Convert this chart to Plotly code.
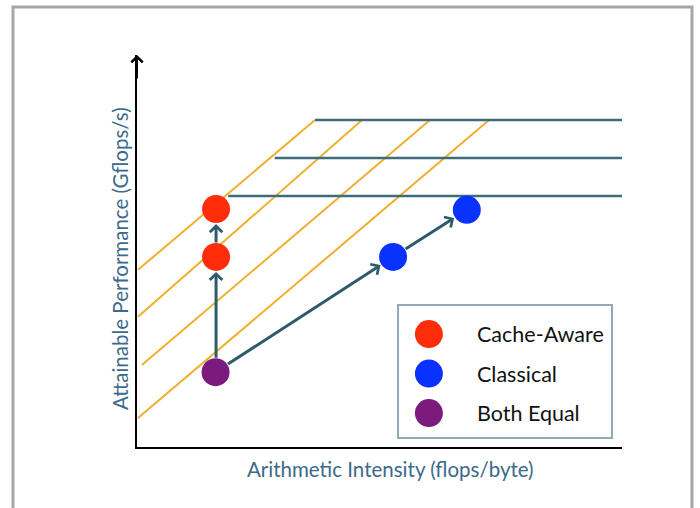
import plotly.graph_objects as go

# ---------------- data (chart units: x 0..100, y 0..100) ----------------
# compute ceilings (horizontal roofs)
ceiling_y = [83.4, 73.7, 64.0]
ceiling_x_start = [36.7, 28.4, 18.8]
ceiling_x_end = [100, 100, 100]

# bandwidth diagonals
bw_x_start = [0.2, 0.2, 1.0, 0.2]
bw_y_start = [45.2, 33.2, 20.9, 7.4]
bw_x_end = [36.7, 46.4, 60.4, 72.6]
bw_y_end = [83.4, 83.4, 83.4, 83.4]

# points
cache_x = [16.3, 16.3]
cache_y = [48.5, 60.7]
classical_x = [52.8, 68.0]
classical_y = [48.5, 60.5]
both_x = [16.2]
both_y = [19.1]

# arrows: (from x, from y, to x, to y)
arrow_from_x = [16.3, 16.3, 16.2, 52.8]
arrow_from_y = [19.1, 48.5, 19.1, 48.5]
arrow_to_x = [16.3, 16.3, 52.8, 68.0]
arrow_to_y = [48.5, 60.7, 48.5, 60.5]

legend_labels = ["Cache-Aware", "Classical", "Both Equal"]
legend_colors = ["#ff2d0a", "#0a32ff", "#7a1b7d"]

x_title = "Arithmetic Intensity (flops/byte)"
y_title = "Attainable Performance (Gflops/s)"

# ---------------- styles ----------------
ORANGE = "#eeb02e"
ROOF = "#3e6b7e"
ARROW = "#2e5b6c"
TITLE_COLOR = "#3b6a8a"
FONT = "Lato"

fig = go.Figure()

# bandwidth lines
bx, by = [], []
for x0, y0, x1, y1 in zip(bw_x_start, bw_y_start, bw_x_end, bw_y_end):
    bx += [x0, x1, None]
    by += [y0, y1, None]
fig.add_trace(go.Scatter(x=bx, y=by, mode="lines",
                         line=dict(color=ORANGE, width=2),
                         hoverinfo="skip", showlegend=False))

# ceilings
cx, cy = [], []
for x0, x1, y in zip(ceiling_x_start, ceiling_x_end, ceiling_y):
    cx += [x0, x1, None]
    cy += [y, y, None]
fig.add_trace(go.Scatter(x=cx, y=cy, mode="lines",
                         line=dict(color=ROOF, width=2.5),
                         hoverinfo="skip", showlegend=False))

# points
for xs, ys, col, name in [(cache_x, cache_y, legend_colors[0], legend_labels[0]),
                          (classical_x, classical_y, legend_colors[1], legend_labels[1]),
                          (both_x, both_y, legend_colors[2], legend_labels[2])]:
    fig.add_trace(go.Scatter(x=xs, y=ys, mode="markers", name=name,
                             marker=dict(size=28, color=col),
                             showlegend=False))

annotations = []
for fx, fy, tx, ty in zip(arrow_from_x, arrow_from_y, arrow_to_x, arrow_to_y):
    annotations.append(dict(x=tx, y=ty, ax=fx, ay=fy, xref="x", yref="y",
                            axref="x", ayref="y", text="", showarrow=True,
                            arrowhead=4, arrowsize=0.8, arrowwidth=3,
                            arrowcolor=ARROW, standoff=15, startstandoff=13))

# y-axis arrowhead
annotations.append(dict(x=0, y=100, ax=0, ay=25, xref="x", yref="y",
                        text="", showarrow=True, arrowhead=4, arrowsize=1.1,
                        arrowwidth=2, arrowcolor="black"))

# axis titles
annotations.append(dict(x=0.5237, y=-0.056, xref="paper", yref="paper",
                        text=x_title, showarrow=False, xanchor="center",
                        yanchor="middle",
                        font=dict(family=FONT, size=20.5, color=TITLE_COLOR)))
annotations.append(dict(x=-0.035, y=0.4796, xref="paper", yref="paper",
                        text=y_title, showarrow=False, textangle=-90,
                        xanchor="center", yanchor="middle",
                        font=dict(family=FONT, size=20.5, color=TITLE_COLOR)))

# legend box (as a small subplot)
fig.add_trace(go.Scatter(x=[0, 0, 0], y=legend_labels, mode="markers",
                         xaxis="x2", yaxis="y2",
                         marker=dict(size=28, color=legend_colors),
                         hoverinfo="skip", showlegend=False))
for lab in legend_labels:
    annotations.append(dict(x=1, y=lab, xref="x2", yref="y2", text=lab,
                            showarrow=False, xanchor="left", yanchor="middle",
                            font=dict(family=FONT, size=21.5, color="#111111")))

# outer frame
shapes = [dict(type="rect", xref="paper", yref="paper",
               x0=-0.2557, x1=1.1443, y0=-0.25, y1=1.1224,
               line=dict(color="#a6a6a6", width=3), layer="below")]

fig.update_layout(
    width=700, height=508,
    margin=dict(l=137, r=78, t=55, b=61),
    paper_bgcolor="white", plot_bgcolor="white",
    showlegend=False,
    xaxis=dict(range=[0, 100], showgrid=False, zeroline=False,
               showticklabels=False, ticks="", showline=True,
               linecolor="black", linewidth=2),
    yaxis=dict(range=[0, 100], showgrid=False, zeroline=False,
               showticklabels=False, ticks="", showline=True,
               linecolor="black", linewidth=2),
    xaxis2=dict(domain=[0.540, 0.977], anchor="y2", range=[-0.6536, 3.965],
                showgrid=False, zeroline=False, showticklabels=False,
                ticks="", showline=True, mirror=True,
                linecolor="#8fa9b8", linewidth=1.5),
    yaxis2=dict(domain=[0.0255, 0.3597], anchor="x2", type="category",
                categoryorder="array",
                categoryarray=["Both Equal", "Classical", "Cache-Aware"],
                range=[-0.607, 2.71],
                showgrid=False, zeroline=False, showticklabels=False,
                ticks="", showline=True, mirror=True,
                linecolor="#8fa9b8", linewidth=1.5),
    annotations=annotations,
    shapes=shapes,
)

fig.write_html("out.html", config={"displayModeBar": False},
               post_script="document.body.style.margin='0';document.body.style.padding='0';")
